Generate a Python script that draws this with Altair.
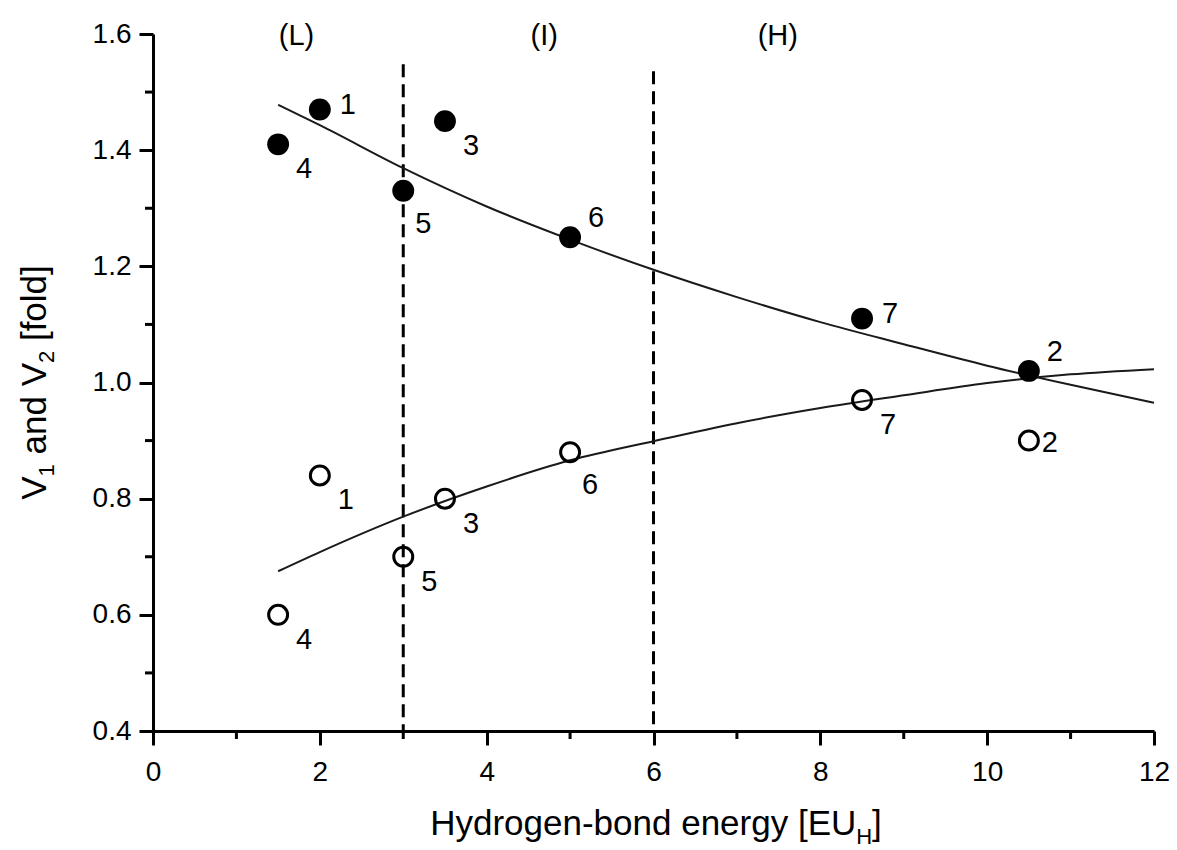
import altair as alt
import pandas as pd

FONT = "Liberation Sans"

# ---------------- data ----------------
point_ids = ["1", "2", "3", "4", "5", "6", "7"]
point_x = [2.0, 10.5, 3.5, 1.5, 3.0, 5.0, 8.5]
v1_values = [1.47, 1.02, 1.45, 1.41, 1.33, 1.25, 1.11]   # filled circles
v2_values = [0.84, 0.90, 0.80, 0.60, 0.70, 0.88, 0.97]   # open circles
v1_label_pos = ["right", "upper", "lower", "lower", "lower2", "upper", "right"]
v2_label_pos = ["lower", "side", "lower", "lower", "lower", "lower2", "lower"]

fit_x = [1.5, 2, 3, 4, 5, 6, 7, 8, 9, 10, 11, 12]
fit_v1 = [1.478, 1.443, 1.369, 1.303, 1.246, 1.194, 1.147, 1.104, 1.066, 1.029, 0.996, 0.965]
fit_v2 = [0.675, 0.708, 0.769, 0.821, 0.866, 0.899, 0.930, 0.956, 0.978, 0.999, 1.014, 1.023]

boundary_x = [3, 6]
boundary_top = [1.548, 1.536]

region_names = ["(L)", "(I)", "(H)"]
region_x = [1.72, 4.69, 7.49]
region_y = [1.6, 1.6, 1.6]

x_ticks = [0, 2, 4, 6, 8, 10, 12]
x_minor = [1, 3, 5, 7, 9, 11]
y_ticks = [0.4, 0.6, 0.8, 1.0, 1.2, 1.4, 1.6]
y_minor = [0.5, 0.7, 0.9, 1.1, 1.3, 1.5]

# ---------------- layout / style ----------------
W, H = 1001, 697
PAD = {"left": 153, "top": 34, "right": 23, "bottom": 119}
LABEL_OFFSETS = {"right": (28, -5), "upper": (26, -19), "lower": (26, 25),
                 "lower2": (20, 33), "side": (21, 2)}
TITLE_SIZE = 35
SUB_SIZE = 22
LABEL_SIZE = 29

ARIAL = {'H': 722, 'y': 500, 'd': 556, 'r': 333, 'o': 556, 'g': 556, 'e': 556,
         'n': 556, '-': 333, 'b': 556, ' ': 278, '[': 278, ']': 278, 'E': 667,
         'U': 722, 'V': 667, 'a': 556, 'f': 278, 'l': 222, '1': 556, '2': 556}


def tw(s, size):
    return sum(ARIAL.get(c, 556) for c in s) * size / 1000.0


xscale = alt.Scale(domain=[0, 12], nice=False, zero=False)
yscale = alt.Scale(domain=[0.4, 1.6], nice=False, zero=False)

pts = pd.DataFrame({
    "id": point_ids * 2,
    "x": point_x * 2,
    "v": v1_values + v2_values,
    "series": ["V1"] * len(point_ids) + ["V2"] * len(point_ids),
    "pos": v1_label_pos + v2_label_pos,
})
fit = pd.DataFrame({
    "x": fit_x * 2,
    "v": fit_v1 + fit_v2,
    "series": ["V1"] * len(fit_x) + ["V2"] * len(fit_x),
})
bounds = pd.DataFrame({"x": boundary_x, "top": boundary_top, "bottom": [0.4] * len(boundary_x)})
regions = pd.DataFrame({"name": region_names, "x": region_x, "v": region_y})
xminor_df = pd.DataFrame({"x": x_minor})
yminor_df = pd.DataFrame({"v": y_minor})

X = alt.X("x:Q", scale=xscale,
          axis=alt.Axis(values=x_ticks, format="d", title=None, labelFlush=False))
Y = alt.Y("v:Q", scale=yscale,
          axis=alt.Axis(values=y_ticks, format=".1f", title=None, labelFlush=False))

base = alt.Chart(pts)

filled = base.transform_filter(alt.datum.series == "V1").mark_circle(
    size=480, color="black", opacity=1).encode(x=X, y=Y)
hollow = base.transform_filter(alt.datum.series == "V2").mark_point(
    shape="circle", size=360, filled=False, color="black", strokeWidth=3,
    opacity=1).encode(x=X, y=Y)

curves = alt.Chart(fit).mark_line(interpolate="monotone", color="#1a1a1a",
                                  strokeWidth=2).encode(x=X, y=Y, detail="series:N")

dashes = alt.Chart(bounds).mark_rule(color="black", strokeWidth=3,
                                     strokeDash=[13, 7]).encode(
    x=X, y=alt.Y("top:Q", scale=yscale), y2="bottom:Q")

xminor = alt.Chart(xminor_df).mark_rule(color="black", strokeWidth=3).encode(
    x=alt.X("x:Q", scale=xscale), y=alt.value(H), y2=alt.value(H + 8))
yminor = alt.Chart(yminor_df).mark_rule(color="black", strokeWidth=3).encode(
    y=alt.Y("v:Q", scale=yscale), x=alt.value(-8), x2=alt.value(0))

label_layers = []
for name, (dx, dy) in LABEL_OFFSETS.items():
    label_layers.append(
        base.transform_filter(alt.datum.pos == name).mark_text(
            font=FONT, fontSize=LABEL_SIZE, color="black", dx=dx, dy=dy,
            align="center", baseline="middle").encode(x=X, y=Y, text="id:N"))

region_text = alt.Chart(regions).mark_text(
    font=FONT, fontSize=LABEL_SIZE, color="black", align="center", baseline="middle",
    dy=2).encode(
    x=alt.X("x:Q", scale=xscale), y=alt.Y("v:Q", scale=yscale), text="name:N")

one = pd.DataFrame({"a": [0]})

# x-axis title with subscript
x_segs = [("Hydrogen-bond energy [EU", TITLE_SIZE, 0), ("H", SUB_SIZE, 9), ("]", TITLE_SIZE, 0)]
x_total = sum(tw(t, s) for t, s, _ in x_segs)
cur = 503 - x_total / 2
title_layers = []
for t, s, sh in x_segs:
    title_layers.append(alt.Chart(one).mark_text(
        text=t, font=FONT, fontSize=s, color="black", align="left",
        baseline="alphabetic").encode(x=alt.value(cur), y=alt.value(801 + sh)))
    cur += tw(t, s)

# y-axis title with subscripts (rotated)
y_segs = [("V", TITLE_SIZE, 0), ("1", SUB_SIZE, 8), (" and V", TITLE_SIZE, 0),
          ("2", SUB_SIZE, 8), (" [fold]", TITLE_SIZE, 0)]
y_total = sum(tw(t, s) for t, s, _ in y_segs)
cur = H / 2 + y_total / 2
for t, s, sh in y_segs:
    lead = len(t) - len(t.lstrip(" "))
    start = cur - tw(" " * lead, s)
    title_layers.append(alt.Chart(one).mark_text(
        text=t.lstrip(" "), font=FONT, fontSize=s, color="black", align="left",
        baseline="alphabetic", angle=270).encode(x=alt.value(-107 + sh), y=alt.value(start)))
    cur -= tw(t, s)

chart = alt.layer(
    dashes, curves, xminor, yminor, filled, hollow, region_text,
    *label_layers, *title_layers
).properties(
    width=W, height=H, autosize=alt.AutoSizeParams(type="none"), padding=PAD,
    background="white"
).configure_view(stroke=None).configure_axis(
    domainColor="black", domainWidth=3, tickColor="black", tickWidth=3, tickSize=14,
    labelFont=FONT, labelFontSize=28, labelColor="black", grid=False
).configure_axisX(labelPadding=13).configure_axisY(labelPadding=8)

chart.save("out.html", embed_options={"renderer": "svg", "actions": False})
